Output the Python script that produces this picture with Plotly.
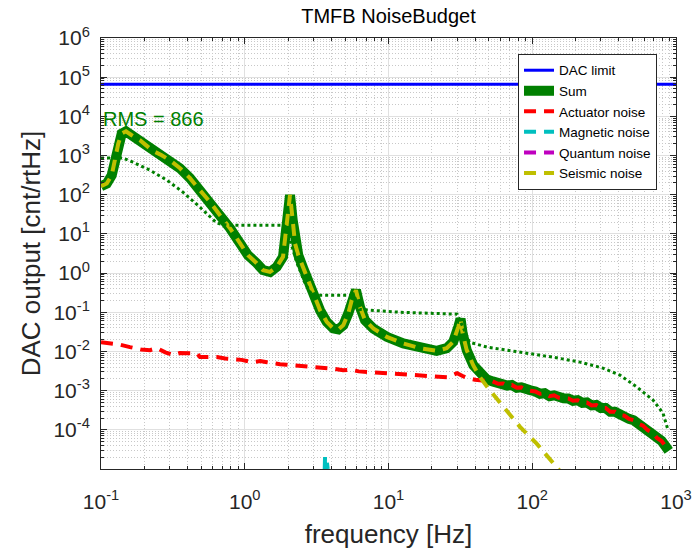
import plotly.graph_objects as go

# ---------------- data ----------------
dac_freq = [0.1, 1000]
dac_limit = [65536, 65536]

# seismic noise (dominates the sum below ~40 Hz)
seis_low_freq = [0.100, 0.1096, 0.1187, 0.1252, 0.1319, 0.1393, 0.1492, 0.1635, 0.1867, 0.2192,
                 0.2375, 0.2644, 0.302, 0.3545, 0.4159, 0.4882, 0.5729, 0.6725, 0.7895, 0.9268,
                 1.053, 1.211, 1.34, 1.499, 1.669, 1.846, 1.905, 1.977, 2.065, 2.156,
                 2.237, 2.358, 2.555, 2.768, 3.0, 3.338, 3.717, 4.13, 4.475, 4.85,
                 5.25, 5.546, 5.94, 6.335, 6.864, 7.84, 9.72, 12.68, 16.56, 21.6,
                 25.4, 28.2, 30.6, 31.7, 32.8, 35.0]
seis_low_vals = [165, 193, 314, 759, 2023, 3640, 4170, 3296, 2455, 1510,
                 1236, 1018, 759, 474, 264, 130, 65.5, 30, 14, 5.79,
                 2.86, 1.79, 1.19, 1.07, 1.44, 2.59, 6.9, 22.3, 98, 22.3,
                 5.7, 2.86, 1.31, 0.597, 0.273, 0.113, 0.0569, 0.0386, 0.0364, 0.0469,
                 0.0931, 0.204, 0.366, 0.137, 0.0628, 0.0386, 0.0236, 0.016, 0.0121, 0.0104,
                 0.0121, 0.0176, 0.0425, 0.068, 0.0288, 0.0108]
seis_tail_freq = [38.9, 43.3, 49.5, 59.7, 82.2, 107, 140, 200, 500, 1000]
seis_tail_vals = [0.0044, 0.0022, 0.00114, 0.00048, 0.000119, 4.5e-5, 1.39e-5, 3e-6, 8e-8, 5e-9]

# actuator noise
act_freq = [0.1, 0.116, 0.135, 0.159, 0.19, 0.219, 0.245, 0.28, 0.317, 0.354,
            0.41, 0.465, 0.488, 0.55, 0.641, 0.73, 0.829, 0.95, 1.14, 1.28,
            1.43, 1.6, 1.76, 1.95, 2.13, 2.42, 2.8, 3.2, 3.73, 4.2,
            4.83, 5.5, 6.2, 7.09, 8.2, 9.76, 11.5, 13.4, 15.8, 18.5,
            21.8, 25.5, 28, 30, 32.5, 35.2, 40, 45,
            48, 53, 58, 63, 67, 72, 78, 84, 90, 97,
            105, 113, 122, 132, 142, 153, 165, 178, 192, 207,
            223, 240, 259, 279, 300, 324, 349, 376, 405, 437,
            471, 507, 547, 589, 635, 684, 737, 794, 855, 890]
act_vals = [0.0173, 0.0163, 0.0150, 0.0129, 0.0112, 0.0108, 0.0122, 0.0095, 0.0081, 0.0091,
            0.0088, 0.0090, 0.0072, 0.0073, 0.0072, 0.0066, 0.0064, 0.0061, 0.0053, 0.0057,
            0.0053, 0.0049, 0.0047, 0.0046, 0.0045, 0.0042, 0.0041, 0.0040, 0.0037, 0.0036,
            0.0033, 0.0034, 0.0031, 0.0030, 0.0029, 0.0028, 0.0026, 0.0025, 0.0025, 0.0023,
            0.0022, 0.0022, 0.0025, 0.0028, 0.0024, 0.0021, 0.0019, 0.00178,
            0.00180, 0.00172, 0.00150, 0.00152, 0.00135, 0.00140, 0.00118, 0.00121, 0.00104, 0.00102,
            0.00095, 0.00083, 0.00086, 0.00072, 0.00076, 0.00066, 0.00064, 0.00063, 0.00055, 0.00057,
            0.00049, 0.00050, 0.00042, 0.00043, 0.00036, 0.00036, 0.00029, 0.00029, 0.00024, 0.00023,
            0.00019, 0.000175, 0.000142, 0.000128, 0.000098, 8.6e-5, 6.2e-5, 5.2e-5, 3.6e-5, 2.9e-5]

# sum: seismic-dominated part, a short crossover, then actuator-dominated part (from 53 Hz)
sum_cross_freq = [38.9, 43.3, 48.0]
sum_cross_vals = [0.00447, 0.00264, 0.00195]

mag_freq = [3.60, 3.62, 3.68, 3.70, 3.76, 3.78]
mag_vals = [1.0e-5, 2.1e-5, 2.1e-5, 1.6e-5, 1.6e-5, 1.0e-5]

quant_freq = [0.1, 1000]
quant_vals = [2e-8, 2e-8]

rms_freq = [0.1, 0.142, 0.167, 0.219, 0.288, 0.372, 0.488, 0.641, 0.752, 1.85,
            1.99, 2.065, 2.31, 2.63, 2.94, 5.4, 5.85, 6.3, 12, 30,
            33.7, 36.5, 48.4, 82.2, 139, 215, 310, 408, 535, 692,
            812, 880]
rms_vals = [866, 866, 675, 422, 234, 116, 48, 18.7, 16.7, 16.7,
            14, 6.9, 1.79, 0.552, 0.273, 0.27, 0.23, 0.118, 0.1, 0.0895,
            0.0349, 0.0173, 0.0129, 0.0096, 0.00716, 0.00534, 0.00375, 0.00248, 0.00123, 0.000573,
            0.000267, 9.8e-5]
rms_total = 866

x_tick_vals = [0.1, 1, 10, 100, 1000]
x_tick_text = ["10<sup>-1</sup>", "10<sup>0</sup>", "10<sup>1</sup>", "10<sup>2</sup>", "10<sup>3</sup>"]
y_tick_vals = [1e-4, 1e-3, 1e-2, 1e-1, 1, 10, 100, 1e3, 1e4, 1e5, 1e6]
y_tick_text = ["10<sup>%d</sup>" % e for e in range(-4, 7)]

# minor tick positions (2..9 within each decade)
x_minor = [m * 10.0 ** d for d in range(-1, 3) for m in range(2, 10)]
y_minor = [m * 10.0 ** d for d in range(-5, 6) for m in range(2, 10)]

# ---------------- assemble series ----------------
seis_freq = seis_low_freq + seis_tail_freq
seis_vals = seis_low_vals + seis_tail_vals
k = act_freq.index(53)
sum_freq = seis_low_freq + sum_cross_freq + act_freq[k:]
sum_vals = seis_low_vals + sum_cross_vals + act_vals[k:]

# ---------------- figure ----------------
FONT = "Liberation Sans, Arial, Helvetica, sans-serif"
AX = "#262626"

fig = go.Figure()
fig.add_trace(go.Scatter(x=dac_freq, y=dac_limit, name="DAC limit", mode="lines",
                         line=dict(color="#0000FF", width=3)))
fig.add_trace(go.Scatter(x=sum_freq, y=sum_vals, name="Sum", mode="lines",
                         line=dict(color="#008000", width=10)))
fig.add_trace(go.Scatter(x=act_freq, y=act_vals, name="Actuator noise", mode="lines",
                         line=dict(color="#FF0000", width=4, dash="12px,8px")))
fig.add_trace(go.Scatter(x=mag_freq, y=mag_vals, name="Magnetic noise", mode="lines",
                         line=dict(color="#00BFBF", width=4, dash="12px,8px")))
fig.add_trace(go.Scatter(x=quant_freq, y=quant_vals, name="Quantum noise", mode="lines",
                         line=dict(color="#BF00BF", width=4, dash="12px,8px")))
fig.add_trace(go.Scatter(x=seis_freq, y=seis_vals, name="Seismic noise", mode="lines",
                         line=dict(color="#BFBF00", width=4, dash="12px,8px")))
fig.add_trace(go.Scatter(x=rms_freq, y=rms_vals, name="RMS", mode="lines", showlegend=False,
                         line=dict(color="#008000", width=3, dash="dot")))

fig.add_annotation(x=-1, y=3.93, xref="x", yref="y", text="RMS = %d" % rms_total,
                   showarrow=False, xanchor="left", yanchor="middle",
                   font=dict(family=FONT, size=20, color="#008000"))

axis_common = dict(
    type="log", showline=True, linecolor=AX, linewidth=1, mirror="allticks",
    ticks="inside", ticklen=6, tickcolor=AX, tickwidth=1, automargin=False,
    showgrid=True, gridcolor="#e0e0e0", gridwidth=1, zeroline=False,
    tickfont=dict(family=FONT, size=21, color=AX),
)
minor_common = dict(tickmode="array", ticks="inside", ticklen=3, tickcolor=AX,
                    showgrid=True, gridcolor="#c8c8c8", griddash="1px,2px", gridwidth=1)

fig.update_layout(
    width=697, height=555,
    margin=dict(l=101, r=21, t=38, b=86),
    paper_bgcolor="white", plot_bgcolor="white",
    font=dict(family=FONT, color=AX),
    title=dict(text="TMFB NoiseBudget", x=0.5, xref="paper", xanchor="center",
               y=1 - 16 / 555, yref="container", yanchor="middle",
               font=dict(family=FONT, size=20, color="#000000")),
    xaxis=dict(axis_common, range=[-1, 3], tickmode="array", tickvals=x_tick_vals, ticktext=x_tick_text,
               ticklabelstandoff=14, minor=dict(minor_common, tickvals=x_minor),
               title=dict(text="frequency [Hz]", font=dict(family=FONT, size=26, color=AX), standoff=12)),
    yaxis=dict(axis_common, range=[-5, 6], tickmode="array", tickvals=y_tick_vals, ticktext=y_tick_text,
               ticklabelstandoff=6, minor=dict(minor_common, tickvals=y_minor),
               title=dict(text="DAC output [cnt/rtHz]", font=dict(family=FONT, size=26, color=AX), standoff=5)),
    legend=dict(x=0.967, y=0.963, xanchor="right", yanchor="top",
                bgcolor="white", bordercolor=AX, borderwidth=1,
                font=dict(family=FONT, size=13.5, color="#000000"),
                tracegroupgap=0),
    showlegend=True,
)

fig.write_html("out.html", config={"displayModeBar": False},
               post_script="document.body.style.margin='0px';")
